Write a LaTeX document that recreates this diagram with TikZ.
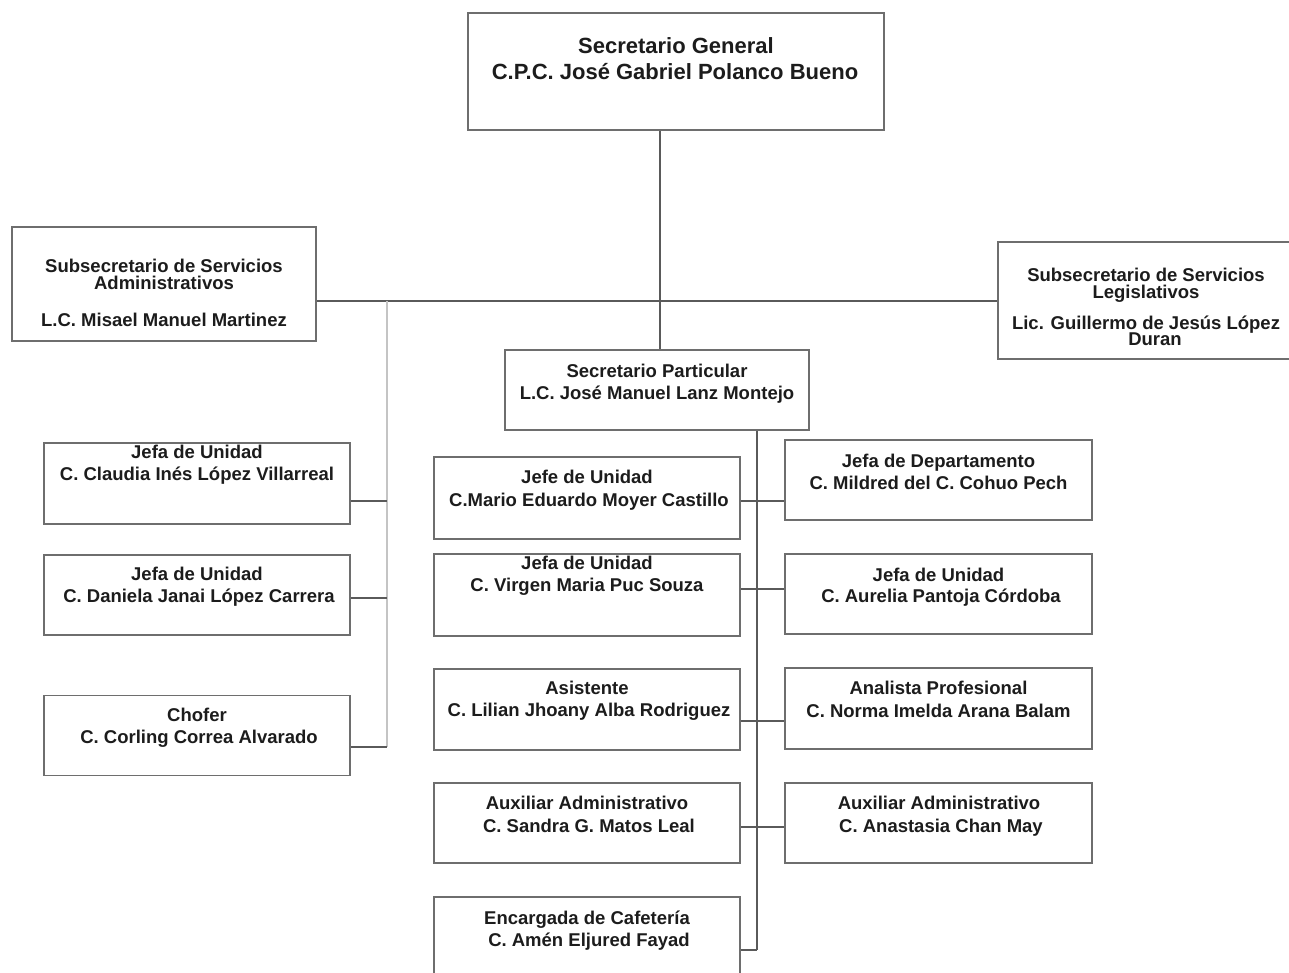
\documentclass[tikz,border=0pt]{standalone}
\usepackage{fontspec}
\setmainfont{Liberation Sans}
\definecolor{boxline}{HTML}{6E6E6E}
\definecolor{connline}{HTML}{5A5A5A}
\definecolor{paleline}{HTML}{C4C4C4}
\definecolor{ink}{HTML}{1C1C1C}
\tikzset{
  orgbox/.style={draw=boxline, line width=1.8pt, fill=white, inner sep=0pt},
  lbl/.style={inner sep=0pt, text=ink, font=\fontsize{18.5}{20}\selectfont\bfseries,
              text height=13.2pt, text depth=0pt},
  toplbl/.style={lbl, font=\fontsize{22}{24}\selectfont\bfseries, text height=15.8pt},
  conn/.style={draw=connline, line width=1.3pt},
  paleconn/.style={draw=paleline, line width=2pt}
}
\begin{document}
\begin{tikzpicture}[x=1pt, y=-1pt]
\useasboundingbox[fill=white] (0,0) rectangle (1289,973);

% junction points of the connector tree
\coordinate (hub) at (660,301);
\coordinate (lspine) at (387,301);
\coordinate (kl1) at (387,501);
\coordinate (kl2) at (387,598);
\coordinate (kl3) at (387,747);
\coordinate (k1) at (757,501);
\coordinate (k2) at (757,589);
\coordinate (k3) at (757,721);
\coordinate (k4) at (757,827);
\coordinate (k5) at (757,950);

% boxes
\node[orgbox, minimum width=416pt, minimum height=117pt] (sg) at (676,71.5) {};
\node[orgbox, minimum width=304pt, minimum height=114pt] (sa) at (164,284) {};
\node[orgbox, minimum width=402pt, minimum height=117pt] (sl) at (1199,300.5) {};
\node[orgbox, minimum width=304pt, minimum height=80pt] (sp) at (657,390) {};

\node[orgbox, minimum width=306pt, minimum height=81pt] (l1) at (197,483.5) {};
\node[orgbox, minimum width=306pt, minimum height=80pt] (l2) at (197,595) {};
\node[orgbox, minimum width=306pt, minimum height=80pt] (l3) at (197,735.5) {};

\node[orgbox, minimum width=306pt, minimum height=82pt] (m1) at (587,498) {};
\node[orgbox, minimum width=306pt, minimum height=82pt] (m2) at (587,595) {};
\node[orgbox, minimum width=306pt, minimum height=81pt] (m3) at (587,709.5) {};
\node[orgbox, minimum width=306pt, minimum height=80pt] (m4) at (587,823) {};
\node[orgbox, minimum width=306pt, minimum height=81pt] (m5) at (587,937.5) {};

\node[orgbox, minimum width=307pt, minimum height=80pt] (r1) at (938.5,480) {};
\node[orgbox, minimum width=307pt, minimum height=80pt] (r2) at (938.5,594) {};
\node[orgbox, minimum width=307pt, minimum height=81pt] (r3) at (938.5,708.5) {};
\node[orgbox, minimum width=307pt, minimum height=80pt] (r4) at (938.5,823) {};

% tree connectors
\draw[conn] (sg.south -| hub) -- (sp.north -| hub);
\draw[conn] (sa.east |- hub) -- (sl.west |- hub);
\draw[paleconn] (lspine) -- (kl3);
\draw[conn] (l1.east |- kl1) -- (kl1);
\draw[conn] (l2.east |- kl2) -- (kl2);
\draw[conn] (l3.east |- kl3) -- (kl3);
\draw[conn] (sp.south -| k5) -- (k5);
\draw[conn] (m1.east |- k1) -- (r1.west |- k1);
\draw[conn] (m2.east |- k2) -- (r2.west |- k2);
\draw[conn] (m3.east |- k3) -- (r3.west |- k3);
\draw[conn] (m4.east |- k4) -- (r4.west |- k4);
\draw[conn] (m5.east |- k5) -- (k5);

% labels
\node[toplbl] (sg1) at (676,46) {Secretario General};
\node[toplbl] (sg2) at (675,72) {C.P.C. José Gabriel Polanco Bueno};

\node[lbl] (sa1) at (164,265.5) {Subsecretario de Servicios};
\node[lbl] (sa2) at (164,283) {Administrativos};
\node[lbl] (sa3) at (164,320) {L.C. Misael Manuel Martinez};

\node[lbl] (sl1) at (1146,275) {Subsecretario de Servicios};
\node[lbl] (sl2) at (1146,292) {Legislativos};
\node[lbl] (sl3) at (1146,322.5) {Lic. Guillermo de Jesús López};
\node[lbl] (sl4) at (1155,338.5) {Duran};

\node[lbl] (sp1) at (657,371) {Secretario Particular};
\node[lbl] (sp2) at (657,393) {L.C. José Manuel Lanz Montejo};

\node[lbl] (l1a) at (197,452) {Jefa de Unidad};
\node[lbl] (l1b) at (197,474) {C. Claudia Inés López Villarreal};
\node[lbl] (l2a) at (197,574) {Jefa de Unidad};
\node[lbl] (l2b) at (199,596) {C. Daniela Janai López Carrera};
\node[lbl] (l3a) at (197,714.5) {Chofer};
\node[lbl] (l3b) at (199,737) {C. Corling Correa Alvarado};

\node[lbl] (m1a) at (587,477) {Jefe de Unidad};
\node[lbl] (m1b) at (589,499.5) {C.Mario Eduardo Moyer Castillo};
\node[lbl] (m2a) at (587,563) {Jefa de Unidad};
\node[lbl] (m2b) at (587,585) {C. Virgen Maria Puc Souza};
\node[lbl] (m3a) at (587,688) {Asistente};
\node[lbl] (m3b) at (589,710) {C. Lilian Jhoany Alba Rodriguez};
\node[lbl] (m4a) at (587,803) {Auxiliar Administrativo};
\node[lbl] (m4b) at (589,826) {C. Sandra G. Matos Leal};
\node[lbl] (m5a) at (587,918) {Encargada de Cafetería};
\node[lbl] (m5b) at (589,940) {C. Amén Eljured Fayad};

\node[lbl] (r1a) at (938.5,461) {Jefa de Departamento};
\node[lbl] (r1b) at (938.5,483) {C. Mildred del C. Cohuo Pech};
\node[lbl] (r2a) at (938.5,574.5) {Jefa de Unidad};
\node[lbl] (r2b) at (941,596) {C. Aurelia Pantoja Córdoba};
\node[lbl] (r3a) at (938.5,688) {Analista Profesional};
\node[lbl] (r3b) at (938.5,711) {C. Norma Imelda Arana Balam};
\node[lbl] (r4a) at (939,803) {Auxiliar Administrativo};
\node[lbl] (r4b) at (941,826) {C. Anastasia Chan May};
\end{tikzpicture}
\end{document}
